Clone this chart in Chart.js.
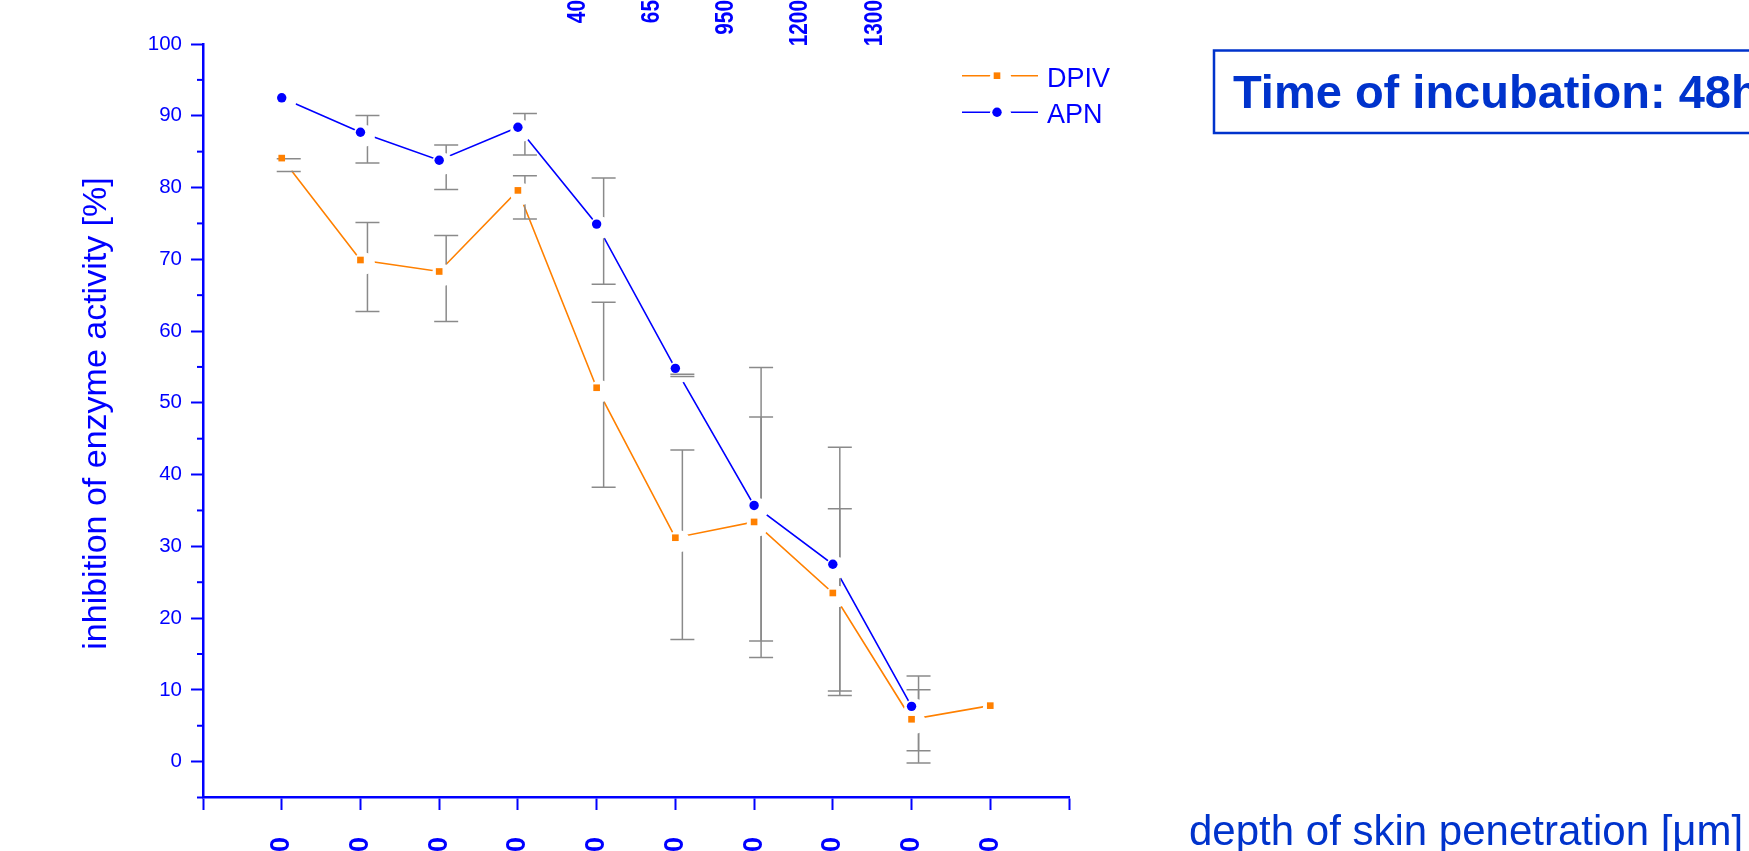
<!DOCTYPE html>
<html>
<head>
<meta charset="utf-8">
<title>Inhibition of enzyme activity</title>
<script src="https://cdn.jsdelivr.net/npm/chart.js@4.4.1/dist/chart.umd.min.js"></script>
<style>
  html, body { margin: 0; padding: 0; background: #fff; overflow: hidden; }
</style>
</head>
<body>
<canvas id="depth-chart" width="1749" height="851"></canvas>
<script>
// x positions of the sections (1..10) and their tick labels
let sections = [1, 2, 3, 4, 5, 6, 7, 8, 9, 10];
let depthLabels = ["100", "200", "300", "400", "500", "600", "700", "800", "900", "1000"];
// labels printed along the top edge (secondary axis, values 5..9)
let topLabels = ["40", "65", "950", "1200", "1300"];
let topLabelValues = [5, 6, 7, 8, 9];

// inhibition of enzyme activity [%] and standard deviations
let dpivValues = [84.1, 69.9, 68.3, 79.6, 52.1, 31.2, 33.4, 23.5, 5.9, 7.8];
let dpivSD = [0.9, 6.2, 6.0, 3.0, 12.9, 13.2, 15.6, 12.7, 5.1, null];
let apnValues = [92.5, 87.7, 83.8, 88.4, 74.9, 54.8, 35.7, 27.5, 7.7, null];
let apnSD = [null, 3.3, 3.1, 2.9, 7.4, 0.15, 20.2, 17.3, 5.2, null];

let blue = "#0000ff";
let darkBlue = "#0033cc";
let orange = "#ff8000";
let barGray = "#8a8a8a";
let sans = "'Liberation Sans', Arial, sans-serif";

// white gap around every symbol, like the original plot
let halo = { dx: 3.5, dy: 3.5, r: 11 };

function toPoints(values) {
  return values.map((v, i) => ({ x: sections[i], y: v }));
}

function drawSymbol(ctx, style, color, x, y) {
  ctx.fillStyle = color;
  if (Chart.helpers && Chart.helpers.drawPoint) {
    Chart.helpers.drawPoint(ctx, { pointStyle: style, radius: 4.7, rotation: 0, borderWidth: 0 }, x, y);
    return;
  }
  ctx.beginPath();
  if (style === "rect") ctx.rect(x - 3.3, y - 3.3, 6.6, 6.6);
  else ctx.arc(x, y, 4.7, 0, Math.PI * 2);
  ctx.fill();
}

let errorBars = {
  id: "errorBars",
  afterDatasetsDraw(chart) {
    let ctx = chart.ctx;
    let x = chart.scales.x;
    let y = chart.scales.y;
    let bars = [];
    chart.data.datasets.forEach((ds) => {
      ds.data.forEach((p, i) => {
        let sd = ds.sd[i];
        if (p.y == null || sd == null) return;
        let px = x.getPixelForValue(p.x) + 7;
        bars.push({ px, top: y.getPixelForValue(p.y + sd) + 7, bot: y.getPixelForValue(p.y - sd) + 7 });
      });
    });
    ctx.save();
    ctx.strokeStyle = barGray;
    ctx.lineWidth = 1.5;
    // stems
    bars.forEach((b) => {
      ctx.beginPath();
      ctx.moveTo(b.px, b.top);
      ctx.lineTo(b.px, b.bot);
      ctx.stroke();
    });
    // gaps around symbols
    ctx.fillStyle = "#fff";
    chart.data.datasets.forEach((ds, di) => {
      chart.getDatasetMeta(di).data.forEach((pt) => {
        if (pt.skip) return;
        ctx.beginPath();
        ctx.arc(pt.x + halo.dx, pt.y + halo.dy, halo.r, 0, Math.PI * 2);
        ctx.fill();
      });
    });
    // caps
    bars.forEach((b) => {
      ctx.beginPath();
      ctx.moveTo(b.px - 12, b.top);
      ctx.lineTo(b.px + 12, b.top);
      ctx.moveTo(b.px - 12, b.bot);
      ctx.lineTo(b.px + 12, b.bot);
      ctx.stroke();
    });
    ctx.restore();
    // symbols again on top
    chart.data.datasets.forEach((ds, di) => {
      chart.getDatasetMeta(di).data.forEach((pt) => pt.draw(ctx, chart.chartArea));
    });
  },
};

let decorations = {
  id: "decorations",
  afterDraw(chart) {
    let ctx = chart.ctx;
    let yScale = chart.scales.y;
    let x2 = chart.scales.x2;
    ctx.save();

    // minor ticks on the y axis
    ctx.strokeStyle = blue;
    ctx.lineWidth = 2;
    for (let v = -5; v < 100; v += 10) {
      let py = yScale.getPixelForValue(v);
      ctx.beginPath();
      ctx.moveTo(chart.chartArea.left - 6, py);
      ctx.lineTo(chart.chartArea.left, py);
      ctx.stroke();
    }

    // y axis title, a little above the middle of the axis as in the original
    ctx.fillStyle = blue;
    ctx.font = "34px " + sans;
    ctx.textAlign = "center";
    ctx.textBaseline = "middle";
    ctx.save();
    ctx.translate(97, 413.5);
    ctx.rotate(-Math.PI / 2);
    ctx.fillText("inhibition of enzyme activity [%]", 0, 0);
    ctx.restore();

    // labels along the top edge (narrow bold digits)
    ctx.font = "bold 26px " + sans;
    ctx.textAlign = "right";
    topLabels.forEach((t, i) => {
      ctx.save();
      ctx.translate(x2.getPixelForValue(topLabelValues[i]), 0);
      ctx.rotate(-Math.PI / 2);
      ctx.scale(0.8, 1);
      ctx.fillText(t, 0, 0);
      ctx.restore();
    });

    // legend
    ctx.textAlign = "left";
    ctx.textBaseline = "alphabetic";
    ctx.font = "27px " + sans;
    let rows = [75.7, 112.3];
    chart.data.datasets.forEach((ds, di) => {
      let ry = rows[di];
      ctx.strokeStyle = ds.borderColor;
      ctx.lineWidth = 1.5;
      ctx.beginPath();
      ctx.moveTo(962, ry);
      ctx.lineTo(1038, ry);
      ctx.stroke();
      ctx.fillStyle = "#fff";
      ctx.beginPath();
      ctx.arc(997 + halo.dx, ry + halo.dy, halo.r, 0, Math.PI * 2);
      ctx.fill();
      drawSymbol(ctx, ds.pointStyle, ds.backgroundColor, 997, ry);
      ctx.fillStyle = blue;
      ctx.fillText(ds.label, 1047, ry + 11);
    });

    // incubation time box
    ctx.strokeStyle = darkBlue;
    ctx.lineWidth = 2.5;
    ctx.strokeRect(1214, 50.5, 600, 82.5);
    ctx.fillStyle = darkBlue;
    ctx.font = "bold 47px " + sans;
    ctx.fillText("Time of incubation: 48h", 1233, 108);

    // x axis title, placed to the right of the plot
    ctx.font = "42px " + sans;
    ctx.fillText("depth of skin penetration [\u03bcm]", 1189, 845);
    ctx.restore();
  },
};

let renderChart = () => {
  let canvas = document.getElementById("depth-chart");

  new Chart(canvas, {
    type: "line",
    data: {
      datasets: [
        {
          label: "DPIV",
          data: toPoints(dpivValues),
          sd: dpivSD,
          borderColor: orange,
          backgroundColor: orange,
          borderWidth: 1.6,
          pointStyle: "rect",
          pointRadius: 4.7,
          pointBorderWidth: 0,
          tension: 0,
        },
        {
          label: "APN",
          data: toPoints(apnValues),
          sd: apnSD,
          borderColor: blue,
          backgroundColor: blue,
          borderWidth: 1.6,
          pointStyle: "circle",
          pointRadius: 4.7,
          pointBorderWidth: 0,
          tension: 0,
        },
      ],
    },
    options: {
      responsive: false,
      animation: false,
      devicePixelRatio: 1,
      layout: { padding: { left: 0, right: 680, top: 44, bottom: 0 } },
      plugins: {
        legend: { display: false },
        tooltip: { enabled: false },
      },
      scales: {
        x: {
          type: "linear",
          position: "bottom",
          min: 0,
          max: 11,
          border: { color: blue, width: 2.5 },
          grid: { drawOnChartArea: false, drawTicks: true, tickLength: 12.5, tickColor: blue, tickWidth: 2 },
          ticks: {
            stepSize: 1,
            autoSkip: false,
            minRotation: 90,
            maxRotation: 90,
            padding: 27,
            color: blue,
            font: { family: sans, size: 27, weight: "bold" },
            callback: (v) => depthLabels[sections.indexOf(v)] || "",
          },
          afterFit: (scale) => {
            scale.height = 53.5;
          },
        },
        x2: {
          type: "linear",
          display: false,
          min: -0.07,
          max: 11.63,
        },
        y: {
          type: "linear",
          min: -5,
          max: 100,
          border: { color: blue, width: 2.5 },
          grid: {
            drawOnChartArea: false,
            drawTicks: true,
            tickLength: 12,
            tickWidth: 2,
            tickColor: (c) => (c.tick && c.tick.value % 10 === 0 ? blue : "rgba(0,0,0,0)"),
          },
          ticks: {
            stepSize: 5,
            autoSkip: false,
            padding: 9,
            color: blue,
            font: { family: sans, size: 20.5 },
            callback: (v) => (v % 10 === 0 ? v : ""),
          },
          afterFit: (scale) => {
            scale.width = 203;
          },
        },
      },
    },
    plugins: [errorBars, decorations],
  });
};

renderChart();
</script>
</body>
</html>
